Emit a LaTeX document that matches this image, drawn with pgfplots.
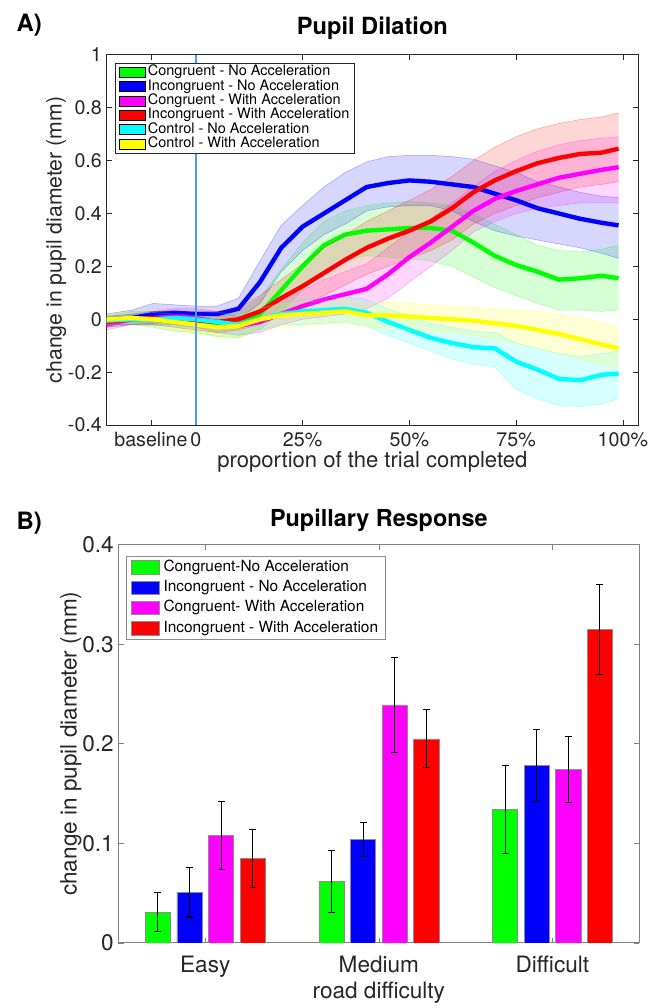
\documentclass[border=0pt]{standalone}
\usepackage{fontspec}
\setmainfont{TeX Gyre Heros}
\usepackage{pgfplots}
\usepackage{pgfplotstable}
\pgfplotsset{compat=1.18}
\usepgfplotslibrary{fillbetween}

\definecolor{axgray}{gray}{0.15}
\definecolor{vline}{rgb}{0.3,0.62,0.86}
\definecolor{cgreen}{rgb}{0,1,0}
\definecolor{cblue}{rgb}{0,0,1}
\definecolor{cmag}{rgb}{1,0,1}
\definecolor{cred}{rgb}{1,0,0}
\definecolor{ccyan}{rgb}{0,1,1}
\definecolor{cyel}{rgb}{1,1,0}

% panel A: x = % of trial, m = mean, lo/hi = shaded band
\pgfplotstableread{
x m lo hi
-20.9 -0.01 -0.03 0.01
-15 0.005 -0.02 0.03
-10 0.0 -0.03 0.03
-5 -0.01 -0.045 0.025
0 -0.015 -0.05 0.02
5 -0.025 -0.065 0.015
10 -0.02 -0.07 0.03
15 0.02 -0.04 0.08
20 0.11 0.03 0.19
25 0.2 0.11 0.29
30 0.28 0.18 0.37
35 0.32 0.225 0.41
40 0.335 0.24 0.43
45 0.34 0.235 0.44
50 0.345 0.23 0.445
55 0.345 0.22 0.44
60 0.335 0.2 0.43
65 0.29 0.16 0.4
70 0.24 0.12 0.36
75 0.205 0.09 0.32
80 0.18 0.06 0.28
85 0.15 0.035 0.26
90 0.155 0.035 0.255
95 0.165 0.03 0.265
99 0.155 0.035 0.28
}\congno

\pgfplotstableread{
x m lo hi
-20.9 0.0 -0.02 0.02
-15 0.005 -0.02 0.035
-10 0.02 -0.015 0.06
-5 0.025 -0.01 0.055
0 0.02 -0.01 0.05
5 0.02 -0.01 0.05
10 0.04 0.0 0.08
15 0.14 0.06 0.22
20 0.27 0.18 0.355
25 0.35 0.26 0.43
30 0.4 0.32 0.5
35 0.45 0.36 0.555
40 0.5 0.41 0.595
45 0.515 0.425 0.615
50 0.525 0.43 0.62
55 0.52 0.43 0.62
60 0.51 0.41 0.615
65 0.5 0.37 0.605
70 0.475 0.335 0.58
75 0.45 0.315 0.555
80 0.42 0.3 0.52
85 0.4 0.285 0.5
90 0.38 0.27 0.48
95 0.365 0.25 0.465
99 0.355 0.23 0.46
}\incongno

\pgfplotstableread{
x m lo hi
-20.9 -0.02 -0.04 0.0
-15 0.0 -0.02 0.02
-10 0.005 -0.02 0.03
-5 0.01 -0.02 0.04
0 0.005 -0.03 0.04
5 -0.01 -0.05 0.03
10 -0.025 -0.06 0.01
15 -0.01 -0.05 0.03
20 0.02 -0.02 0.07
25 0.05 0.0 0.11
30 0.075 0.01 0.15
35 0.095 0.02 0.18
40 0.115 0.04 0.21
45 0.17 0.08 0.27
50 0.235 0.14 0.33
55 0.29 0.2 0.38
60 0.35 0.26 0.44
65 0.41 0.33 0.5
70 0.455 0.37 0.56
75 0.485 0.4 0.6
80 0.51 0.42 0.635
85 0.535 0.43 0.66
90 0.55 0.44 0.675
95 0.565 0.44 0.685
99 0.575 0.44 0.69
}\congwith

\pgfplotstableread{
x m lo hi
-20.9 -0.01 -0.03 0.01
-15 0.0 -0.02 0.02
-10 0.005 -0.02 0.03
-5 0.0 -0.03 0.03
0 -0.005 -0.04 0.03
5 -0.01 -0.05 0.03
10 0.0 -0.04 0.04
15 0.03 -0.02 0.09
20 0.08 0.02 0.15
25 0.125 0.05 0.21
30 0.175 0.09 0.27
35 0.225 0.13 0.32
40 0.27 0.17 0.37
45 0.305 0.2 0.41
50 0.335 0.23 0.45
55 0.37 0.26 0.49
60 0.42 0.3 0.54
65 0.48 0.36 0.6
70 0.525 0.4 0.65
75 0.56 0.43 0.69
80 0.59 0.46 0.72
85 0.61 0.48 0.74
90 0.625 0.5 0.755
95 0.63 0.51 0.765
99 0.645 0.52 0.78
}\incongwith

\pgfplotstableread{
x m lo hi
-20.9 -0.005 -0.025 0.015
-15 0.0 -0.02 0.02
-10 0.0 -0.025 0.025
-5 0.005 -0.025 0.035
0 0.0 -0.03 0.03
5 -0.01 -0.045 0.025
10 -0.02 -0.06 0.02
15 0.0 -0.04 0.04
20 0.02 -0.02 0.06
25 0.03 -0.02 0.075
30 0.035 -0.015 0.08
35 0.04 -0.01 0.085
40 0.025 -0.025 0.075
45 -0.01 -0.06 0.04
50 -0.04 -0.09 0.01
55 -0.07 -0.12 -0.015
60 -0.09 -0.15 -0.03
65 -0.105 -0.17 -0.045
70 -0.11 -0.18 -0.05
75 -0.16 -0.265 -0.09
80 -0.19 -0.3 -0.11
85 -0.225 -0.325 -0.13
90 -0.23 -0.33 -0.14
95 -0.21 -0.32 -0.13
99 -0.205 -0.3 -0.12
}\ctrlno

\pgfplotstableread{
x m lo hi
-20.9 0.0 -0.02 0.02
-15 0.005 -0.015 0.025
-10 0.0 -0.025 0.025
-5 -0.01 -0.04 0.02
0 -0.02 -0.055 0.015
5 -0.03 -0.065 0.005
10 -0.025 -0.065 0.015
15 0.0 -0.04 0.04
20 0.015 -0.03 0.06
25 0.02 -0.025 0.065
30 0.025 -0.02 0.07
35 0.03 -0.015 0.075
40 0.015 -0.03 0.06
45 0.015 -0.03 0.065
50 0.01 -0.04 0.06
55 0.005 -0.045 0.055
60 0.0 -0.05 0.05
65 -0.005 -0.06 0.045
70 -0.015 -0.075 0.04
75 -0.025 -0.09 0.035
80 -0.04 -0.11 0.03
85 -0.055 -0.13 0.02
90 -0.075 -0.15 0.005
95 -0.095 -0.17 -0.01
99 -0.11 -0.18 -0.03
}\ctrlwith

% panel B: bar heights and half-widths of the error bars
\pgfplotstableread{
x g ge b be m me r re
1 0.031 0.020 0.051 0.025 0.108 0.034 0.085 0.029
2 0.062 0.031 0.104 0.017 0.239 0.048 0.205 0.029
3 0.134 0.044 0.178 0.036 0.174 0.033 0.315 0.045
}\bars

\newcommand{\band}[2]{%
  \addplot[name path=#2up, draw=#2, draw opacity=0.3, line width=0.4pt, forget plot] table[x=x,y=hi]{#1};
  \addplot[name path=#2lo, draw=#2, draw opacity=0.3, line width=0.4pt, forget plot] table[x=x,y=lo]{#1};
  \addplot[fill=#2, fill opacity=0.16, draw=none, forget plot] fill between[of=#2up and #2lo];
  \addplot[draw=#2, line width=3.3pt, forget plot] table[x=x,y=m]{#1};
}

\begin{document}
\begin{tikzpicture}
\path (0,0) rectangle (485.25pt,756pt);

\node[anchor=base west, font=\fontsize{18}{20}\selectfont\bfseries] at (9pt,732pt) {A)};
\node[anchor=base west, font=\fontsize{18}{20}\selectfont\bfseries] at (9pt,357pt) {B)};

\begin{axis}[
  at={(80.25pt,435.75pt)}, anchor=south west,
  scale only axis, width=400.5pt, height=279pt,
  xmin=-20.9, xmax=103.6, ymin=-0.4, ymax=1,
  xtick={-10.5,0,25,50,75,100},
  xticklabels={baseline,0,25\%,50\%,75\%,100\%},
  ytick={-0.4,-0.2,0,0.2,0.4,0.6,0.8,1},
  yticklabels={-0.4,-0.2,0,0.2,0.4,0.6,0.8,1},
  tick align=inside, major tick length=4pt,
  tick style={axgray, line width=0.5pt},
  axis line style={axgray, line width=0.6pt},
  ticklabel style={font=\fontsize{14.8}{16}\selectfont, text=axgray},
  xticklabel style={anchor=base, yshift=-15.75pt},
  title={Pupil Dilation},
  title style={at={(axis description cs:0.5,1.032)}, anchor=base, font=\fontsize{17.8}{20}\selectfont\bfseries},
  xlabel={proportion of the trial completed},
  xlabel style={at={(axis description cs:0.5,-0.1156)}, anchor=base, font=\fontsize{16.6}{19}\selectfont, text=axgray},
  ylabel={change in pupil diameter (mm)},
  ylabel style={at={(axis description cs:-0.0843,0.5)}, anchor=base, font=\fontsize{16}{19}\selectfont, text=axgray},
  legend image code/.code={\fill[#1] (0pt,-3.75pt) rectangle (20pt,3.75pt);},
  legend cell align=left,
  legend style={at={(0,1)}, anchor=north west, xshift=6pt, yshift=-6pt,
    draw=axgray, line width=0.5pt, fill=white, text=black,
    font=\fontsize{10.9}{12}\selectfont, inner xsep=3pt, inner ysep=1.5pt,
    row sep=0pt, column sep=1pt,
    nodes={inner sep=0.45pt, text height=7.6pt, text depth=2.3pt}},
]
\band{\congno}{cgreen}
\band{\incongno}{cblue}
\band{\congwith}{cmag}
\band{\incongwith}{cred}
\band{\ctrlno}{ccyan}
\band{\ctrlwith}{cyel}
\addplot[vline, line width=1.1pt, forget plot] coordinates {(0,-0.4) (0,1)};

\addlegendimage{fill=cgreen}
\addlegendentry{Congruent - No Acceleration}
\addlegendimage{fill=cblue}
\addlegendentry{Incongruent - No Acceleration}
\addlegendimage{fill=cmag}
\addlegendentry{Congruent - With Acceleration}
\addlegendimage{fill=cred}
\addlegendentry{Incongruent - With Acceleration}
\addlegendimage{fill=ccyan}
\addlegendentry{Control - No Acceleration}
\addlegendimage{fill=cyel}
\addlegendentry{Control - With Acceleration}
\end{axis}

\begin{axis}[
  at={(89.25pt,45.75pt)}, anchor=south west,
  scale only axis, width=392.25pt, height=300pt,
  xmin=0.5, xmax=3.5, ymin=0, ymax=0.4,
  ybar, bar width=0.145,
  xtick={1,2,3}, xticklabels={Easy,Medium,Difficult},
  ytick={0,0.1,0.2,0.3,0.4}, yticklabels={0,0.1,0.2,0.3,0.4},
  tick align=inside, major tick length=4pt,
  tick style={black!50, line width=0.5pt},
  axis line style={black!50, line width=0.6pt},
  ticklabel style={font=\fontsize{17}{19}\selectfont, text=axgray},
  xticklabel style={anchor=base, yshift=-22.5pt},
  title={Pupillary Response},
  title style={at={(axis description cs:0.5,1.025)}, anchor=base, font=\fontsize{17.6}{20}\selectfont\bfseries},
  xlabel={road difficulty},
  xlabel style={at={(axis description cs:0.5,-0.14)}, anchor=base, font=\fontsize{17}{19}\selectfont, text=axgray},
  ylabel={change in pupil diameter (mm)},
  ylabel style={at={(axis description cs:-0.0803,0.5)}, anchor=base, font=\fontsize{17}{19}\selectfont, text=axgray},
  error bars/y dir=both, error bars/y explicit,
  error bars/error bar style={black, line width=0.8pt},
  error bars/error mark options={black, line width=0.8pt, mark size=2.6pt, rotate=90},
  legend image code/.code={\draw[#1, draw=black!45, line width=0.5pt] (0pt,-5pt) rectangle (21pt,5pt);},
  legend cell align=left,
  legend style={at={(0,1)}, anchor=north west, xshift=6pt, yshift=-8.25pt,
    draw=black!45, line width=0.5pt, fill=white, text=black,
    font=\fontsize{11.6}{13}\selectfont, inner xsep=3pt, inner ysep=1pt,
    row sep=0pt, column sep=1pt,
    nodes={inner sep=2.2pt, text height=8.4pt, text depth=2.5pt}},
]
\addplot[fill=cgreen, draw=black!45, bar shift=-0.2727, forget plot] table[x=x, y=g, y error=ge]{\bars};
\addplot[fill=cblue, draw=black!45, bar shift=-0.0909, forget plot] table[x=x, y=b, y error=be]{\bars};
\addplot[fill=cmag, draw=black!45, bar shift=0.0909, forget plot] table[x=x, y=m, y error=me]{\bars};
\addplot[fill=cred, draw=black!45, bar shift=0.2727, forget plot] table[x=x, y=r, y error=re]{\bars};

\addlegendimage{fill=cgreen}
\addlegendentry{Congruent-No Acceleration}
\addlegendimage{fill=cblue}
\addlegendentry{Incongruent - No Acceleration}
\addlegendimage{fill=cmag}
\addlegendentry{Congruent- With Acceleration}
\addlegendimage{fill=cred}
\addlegendentry{Incongruent - With Acceleration}
\end{axis}
\end{tikzpicture}
\end{document}
